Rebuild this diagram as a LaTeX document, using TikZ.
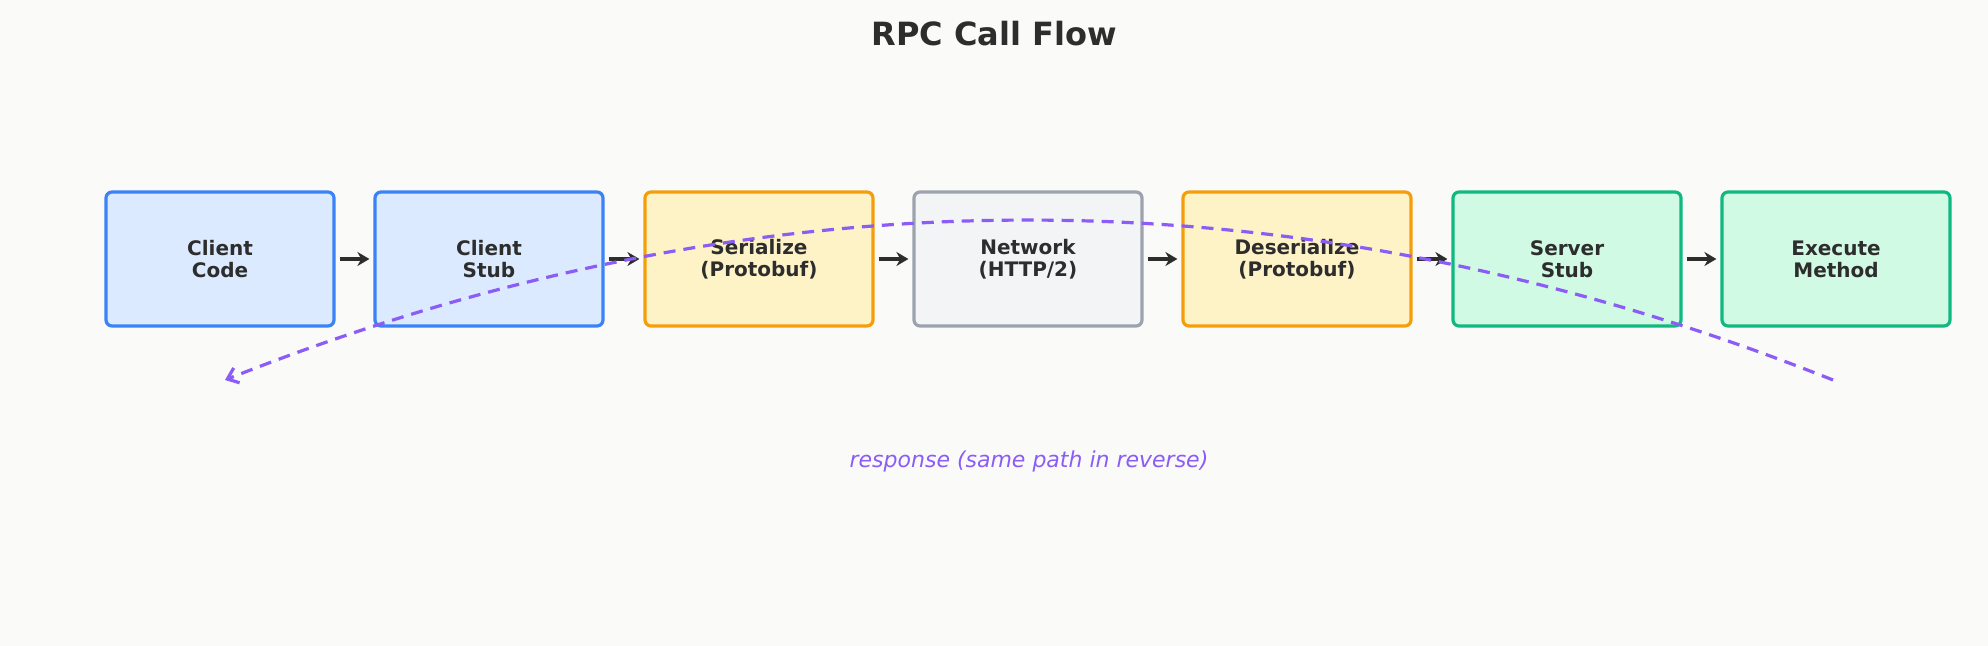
\documentclass[tikz,border=0pt]{standalone}
\usepackage{fontspec}
\setmainfont{DejaVu Sans}
\usetikzlibrary{arrows.meta}
\definecolor{bg}{HTML}{FAFAF9}
\definecolor{ink}{HTML}{2D2D2D}
\definecolor{bluB}{HTML}{3B82F6}\definecolor{bluF}{HTML}{DBEAFE}
\definecolor{orB}{HTML}{F59E0B}\definecolor{orF}{HTML}{FEF3C7}
\definecolor{grB}{HTML}{9CA3AF}\definecolor{grF}{HTML}{F3F4F6}
\definecolor{gnB}{HTML}{10B981}\definecolor{gnF}{HTML}{D1FAE5}
\definecolor{pur}{HTML}{8B5CF6}
\begin{document}
\begin{tikzpicture}[x=0.5pt,y=-0.5pt,
  box/.style={draw, line width=1.6pt, rounded corners=3pt, minimum width=114pt, minimum height=67pt, align=center, font=\fontsize{10}{11}\selectfont\bfseries, text=ink},
  blu/.style={box, draw=bluB, fill=bluF},
  ora/.style={box, draw=orB, fill=orF},
  gry/.style={box, draw=grB, fill=grF},
  grn/.style={box, draw=gnB, fill=gnF},
  flow/.style={-{Stealth[length=6pt,width=7pt]}, line width=1.6pt, draw=ink, shorten <=2pt, shorten >=2pt}]
\fill[bg] (0,0) rectangle (1988,646);
\useasboundingbox (0,0) rectangle (1988,646);
\node[font=\fontsize{16}{18}\selectfont\bfseries, text=ink] (t) at (994,34) {RPC Call Flow};
\node[blu] (a) at (220,259) {Client\\Code};
\node[blu] (b) at (489,259) {Client\\Stub};
\node[ora] (c) at (759,259) {Serialize\\(Protobuf)};
\node[gry] (d) at (1028,259) {Network\\(HTTP/2)};
\node[ora] (e) at (1297,259) {Deserialize\\(Protobuf)};
\node[grn] (f) at (1567,259) {Server\\Stub};
\node[grn] (g) at (1836,259) {Execute\\Method};
\foreach \u/\v in {a/b,b/c,c/d,d/e,e/f,f/g} \draw[flow] (\u) -- (\v);
\coordinate (s) at (1833,380);
\coordinate (r) at (225,380);
\draw[pur, line width=1.6pt, dash pattern=on 6pt off 4pt, -{Straight Barb[length=5pt,width=8pt]}] (s) .. controls (1297,167) and (761,167) .. (r);
\node[text=pur, font=\fontsize{11}{13}\selectfont\itshape] (l) at (1029,461) {response (same path in reverse)};
\end{tikzpicture}
\end{document}
